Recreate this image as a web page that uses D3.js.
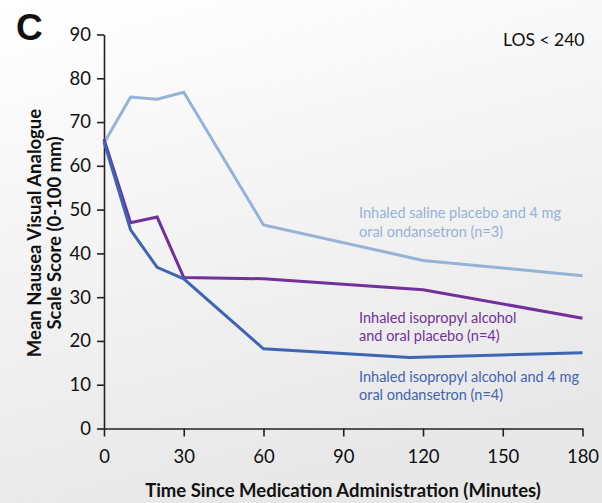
<!DOCTYPE html>
<html><head><meta charset="utf-8">
<script src="https://cdn.jsdelivr.net/npm/d3@7"></script>
<style>body{margin:0;}svg{display:block;}</style>
</head><body>
<script>
const xTicks = [0, 30, 60, 90, 120, 150, 180];
const yTicks = [0, 10, 20, 30, 40, 50, 60, 70, 80, 90];
const salineTimes = [0, 10, 20, 30, 60, 120, 180];
const salineValues = [65.2, 75.7, 75.2, 76.8, 46.5, 38.4, 34.9];
const ipaPlaceboTimes = [0, 10, 20, 30, 60, 120, 180];
const ipaPlaceboValues = [66.1, 47.0, 48.3, 34.5, 34.2, 31.7, 25.2];
const ipaOndTimes = [0, 10, 20, 30, 60, 115, 180];
const ipaOndValues = [65.5, 45.4, 36.8, 34.2, 18.2, 16.2, 17.3];
const seriesNames = ["saline", "ipaPlacebo", "ipaOnd"];
const labelLines = [
  ["Inhaled saline placebo and 4 mg", "oral ondansetron (n=3)"],
  ["Inhaled isopropyl alcohol", "and oral placebo (n=4)"],
  ["Inhaled isopropyl alcohol and 4 mg", "oral ondansetron (n=4)"]
];
const labelAnchors = [48, 24.2, 10.7];
const colors = ["#95b3d7", "#71309a", "#3e65b2"];

const W = 602, H = 503;
const svg = d3.select("body").append("svg").attr("width", W).attr("height", H);
const defs = svg.append("defs");
const g0 = defs.append("linearGradient").attr("id","bg").attr("x1","0").attr("y1","0").attr("x2","0.3").attr("y2","1");
g0.append("stop").attr("offset","0").attr("stop-color","#ffffff");
g0.append("stop").attr("offset","1").attr("stop-color","#e8e8e8");
svg.append("rect").attr("width", W).attr("height", H).attr("fill","url(#bg)");

const x = d3.scaleLinear().domain([0, 180]).range([104, 582.5]);
const y = d3.scaleLinear().domain([0, 90]).range([428.5, 34.5]);
const font = "Lato, 'Open Sans', sans-serif";

const yAxis = svg.append("g").attr("transform", `translate(${x(0)},0)`)
  .call(d3.axisLeft(y).tickValues(yTicks).tickSize(7).tickSizeOuter(0));
const xAxis = svg.append("g").attr("transform", `translate(0,${y(0)})`)
  .call(d3.axisBottom(x).tickValues(xTicks).tickSize(8).tickSizeOuter(0));
[yAxis, xAxis].forEach(a => {
  a.select(".domain").attr("stroke", "#222").attr("stroke-width", 1.6);
  a.selectAll(".tick line").attr("stroke", "#222").attr("stroke-width", 1.6);
  a.selectAll(".tick text").attr("fill", "#111").style("font-family", font).style("font-size", "18.5px");
});
yAxis.selectAll(".tick text").attr("x", -13);
xAxis.selectAll(".tick text").attr("y", 21);

const tData = [salineTimes, ipaPlaceboTimes, ipaOndTimes];
const vData = [salineValues, ipaPlaceboValues, ipaOndValues];
const line = d3.line().x(d => x(d[0])).y(d => y(d[1]));
seriesNames.forEach((n, i) => {
  const pts = tData[i].map((t, j) => [t, vData[i][j]]);
  svg.append("path").datum(pts).attr("d", line).attr("fill", "none")
    .attr("stroke", colors[i]).attr("stroke-width", 3).attr("stroke-linejoin", "miter");
});

labelLines.forEach((ls, i) => {
  const t = svg.append("text").attr("x", 359).attr("y", y(labelAnchors[i]))
    .attr("fill", colors[i]).style("font-family", font).style("font-size", "14.5px");
  ls.forEach((s, k) => t.append("tspan").attr("x", 359).attr("dy", k === 0 ? 0 : 18.5).text(s));
});

svg.append("text").attr("x", 343).attr("y", 497).attr("text-anchor", "middle")
  .style("font-family", font).style("font-weight", "bold").style("font-size", "18.5px").attr("fill", "#111")
  .text("Time Since Medication Administration (Minutes)");
const yt = svg.append("text").attr("transform", "translate(41,233) rotate(-90)").attr("text-anchor", "middle")
  .style("font-family", font).style("font-weight", "bold").style("font-size", "18.5px").attr("fill", "#111");
yt.append("tspan").attr("x", 0).attr("dy", 0).text("Mean Nausea Visual Analogue");
yt.append("tspan").attr("x", 0).attr("dy", 20).text("Scale Score (0-100 mm)");

svg.append("text").attr("x", 16).attr("y", 40).style("font-family", "'Liberation Sans', Arial, sans-serif")
  .style("font-weight", "bold").style("font-size", "37px").attr("fill", "#111").text("C");
svg.append("text").attr("x", 503).attr("y", 46).style("font-family", font)
  .style("font-size", "17.5px").attr("fill", "#111").text("LOS < 240");
</script>
</body></html>
